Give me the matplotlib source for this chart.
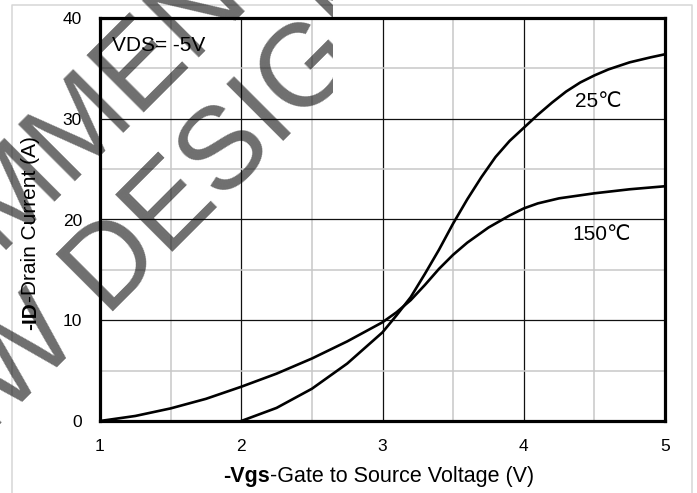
import matplotlib
matplotlib.use("Agg")
import matplotlib.pyplot as plt
from matplotlib.transforms import IdentityTransform, Bbox
from matplotlib.lines import Line2D

# ---- data ----
vgs_25 = [2.0, 2.25, 2.5, 2.75, 3.0, 3.1, 3.2, 3.3, 3.4, 3.5, 3.6, 3.7, 3.8, 3.9,
          4.0, 4.1, 4.2, 4.3, 4.4, 4.5, 4.6, 4.75, 4.9, 5.0]
id_25 = [0.0, 1.3, 3.2, 5.7, 8.8, 10.5, 12.3, 14.6, 17.0, 19.6, 22.0, 24.2, 26.2, 27.8,
         29.1, 30.4, 31.6, 32.7, 33.6, 34.3, 34.9, 35.6, 36.1, 36.4]
vgs_150 = [1.0, 1.25, 1.5, 1.75, 2.0, 2.25, 2.5, 2.75, 3.0, 3.1, 3.2, 3.3, 3.4, 3.5,
           3.6, 3.75, 3.9, 4.0, 4.1, 4.25, 4.5, 4.75, 5.0]
id_150 = [0.0, 0.5, 1.25, 2.2, 3.4, 4.7, 6.2, 7.9, 9.8, 10.8, 12.0, 13.5, 15.1, 16.5,
          17.7, 19.2, 20.4, 21.1, 21.6, 22.1, 22.6, 23.0, 23.3]
x_ticks = [1, 2, 3, 4, 5]
y_ticks = [0, 10, 20, 30, 40]
x_minor = [1.5, 2.5, 3.5, 4.5]
y_minor = [5, 15, 25, 35]
curve_labels = ["25\u2103", "150\u2103"]
watermark_lines = ["NOT RECOMMENDED", "FOR NEW DESIGN"]

plt.rcParams["font.family"] = ["Liberation Sans", "DejaVu Sans"]

W, H = 697, 493
fig = plt.figure(figsize=(W / 100, H / 100), dpi=100)
px = IdentityTransform()

# light outer frame
fig.add_artist(Line2D([12, 12, 692, 692], [0, 488, 488, 0], transform=px,
                      color="#d6d6d6", lw=1.1, zorder=0))

ax = fig.add_axes([100 / W, 72 / H, 565 / W, 403 / H])
ax.set_xlim(1, 5)
ax.set_ylim(0, 40)
ax.set_xticks(x_ticks)
ax.set_yticks(y_ticks)
ax.set_xticks(x_minor, minor=True)
ax.set_yticks(y_minor, minor=True)
ax.set_axisbelow(True)
ax.grid(which="minor", color="#c8c8c8", lw=1.1)
ax.grid(which="major", color="#111111", lw=0.9)
ax.tick_params(which="both", length=0)
ax.tick_params(axis="x", labelsize=12.5, pad=13)
ax.tick_params(axis="y", labelsize=12.5, pad=13)
for s in ax.spines.values():
    s.set_linewidth(2.3)
    s.set_color("black")

ax.plot(vgs_25, id_25, color="black", lw=1.9, solid_joinstyle="round")
ax.plot(vgs_150, id_150, color="black", lw=1.9, solid_joinstyle="round")

ax.text(1.085, 37.3, "VDS= -5V", fontsize=15, ha="left", va="center")
ax.text(4.53, 31.7, curve_labels[0], fontsize=15, ha="center", va="center")
ax.text(4.55, 18.5, curve_labels[1], fontsize=15, ha="center", va="center")

# x label: bold part + regular part
t1 = fig.text(223, 11, "-Vgs", transform=px, fontsize=15.5, weight="bold",
              ha="left", va="baseline")
ax.annotate("-Gate to Source Voltage (V)", xy=(1, 0), xycoords=t1,
            fontsize=15.5, ha="left", va="bottom")

# y label: bold part + regular part
t2 = fig.text(31, 163, "-ID", transform=px, fontsize=15, weight="bold",
              rotation=90, ha="center", va="bottom")
ax.annotate("-Drain Current (A)", xy=(0.5, 1), xycoords=t2, fontsize=15,
            rotation=90, ha="center", va="bottom")

# watermark (clipped on the right like the reference)
clip = Bbox([[0, 0], [333, H]])
for (cx, cy), line in zip([(-3.9, 233.0), (58.5, 127.5)], watermark_lines):
    t = fig.text(cx, cy, line, transform=px, rotation=45, rotation_mode="anchor",
                 ha="center", va="baseline", fontsize=84,
                 family="Liberation Sans", color="black", alpha=0.57, zorder=10)
    t.set_clip_box(clip)
    t.set_clip_on(True)

fig.savefig("out.png", dpi=100)
